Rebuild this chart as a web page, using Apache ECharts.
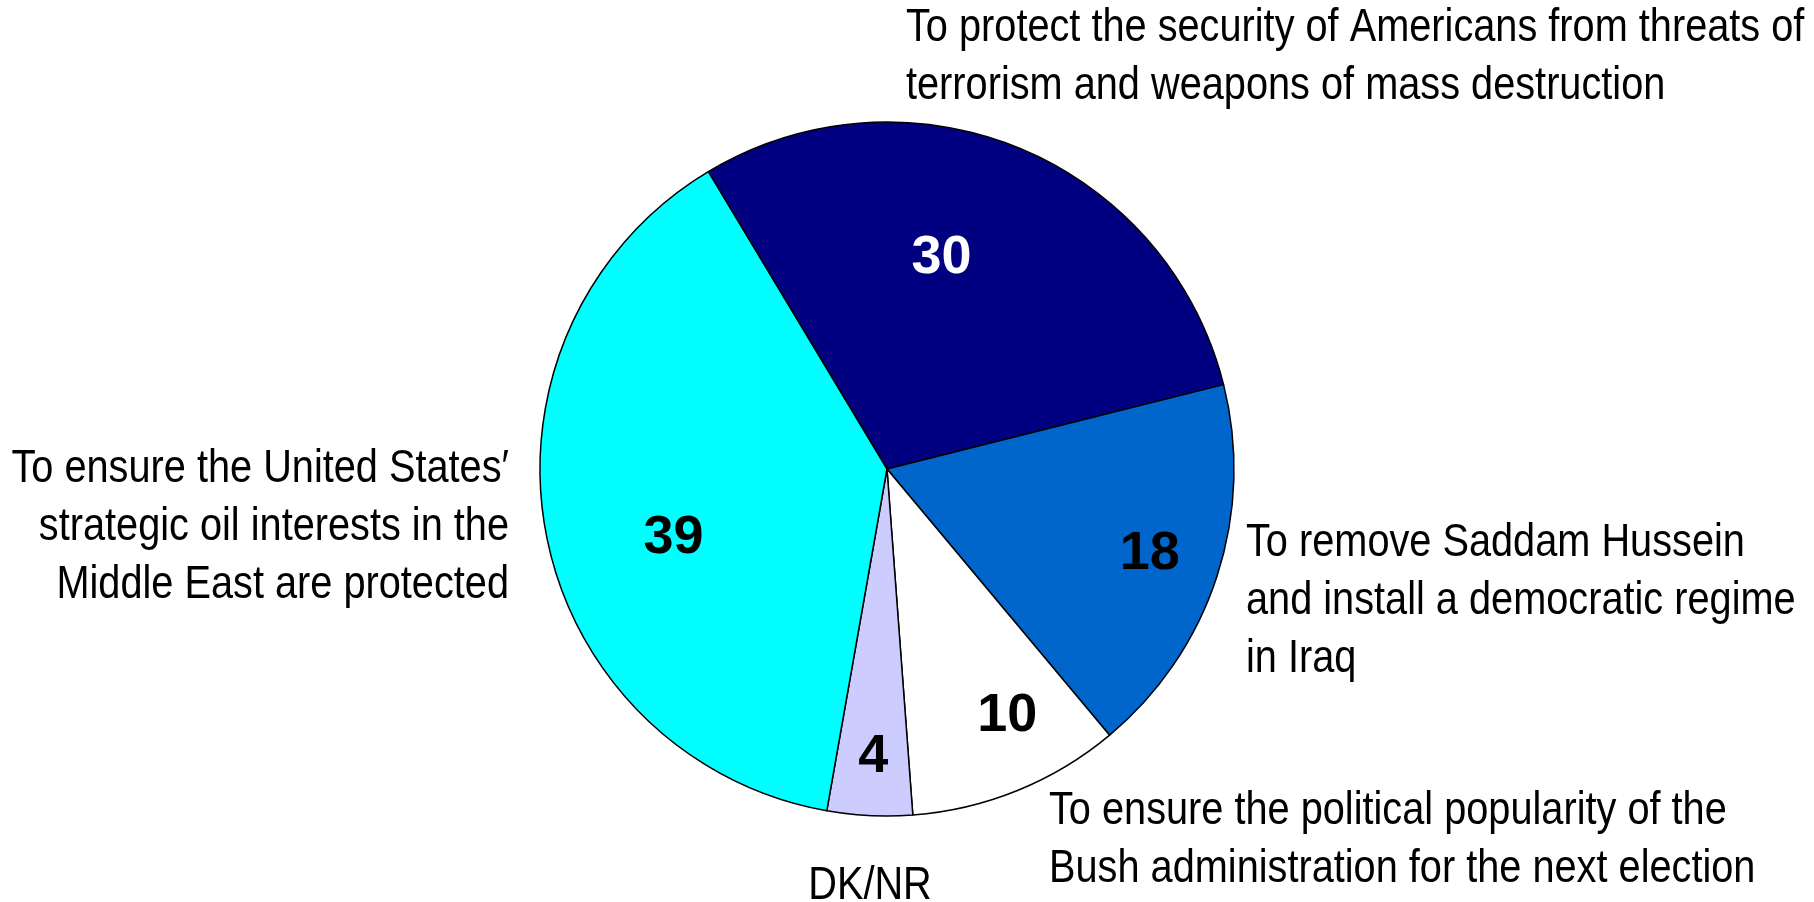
<!DOCTYPE html>
<html>
<head>
<meta charset="utf-8">
<script src="https://cdn.jsdelivr.net/npm/echarts@6/dist/echarts.min.js"></script>
<style>
html,body{margin:0;padding:0;background:#fff;}
#chart{width:1814px;height:902px;}
</style>
</head>
<body>
<div id="chart"></div>
<script>
const categories = [
  "To protect the security of Americans from threats of\nterrorism and weapons of mass destruction",
  "To remove Saddam Hussein\nand install a democratic regime\nin Iraq",
  "To ensure the political popularity of the\nBush administration for the next election",
  "DK/NR",
  "To ensure the United States\u2032\nstrategic oil interests in the\nMiddle East are protected"
];
const values = [30, 18, 10, 4, 39];
const colors = ["#000080", "#0066CC", "#FFFFFF", "#CCCCFF", "#00FFFF"];
const valueColors = ["#FFFFFF", "#000000", "#000000", "#000000", "#000000"];

const center = [887, 469];
const radius = 347;

// label placement tweaks (offsets for value labels, anchors for category labels)
const valueOffsets = [[-13, -48], [95, 31], [54, 84], [-5, 112], [-40, 37]];
const nameAnchors = [
  {x: 906, y: 57, align: 'left'},
  {x: 1246, y: 601, align: 'left'},
  {x: 1049, y: 840, align: 'left'},
  {x: 870, y: 886, align: 'center'},
  {x: 509, y: 527, align: 'right'}
];

const chart = echarts.init(document.getElementById('chart'), null, {renderer: 'canvas'});
const dataMain = values.map((v, i) => ({
  value: v, name: categories[i],
  itemStyle: {color: colors[i]},
  label: {color: valueColors[i]}
}));

const nameTexts = categories.map((c, i) => ({
  type: 'text',
  x: nameAnchors[i].x,
  y: nameAnchors[i].y,
  scaleX: 0.845,
  silent: true,
  style: {
    text: c,
    fill: '#000',
    fontFamily: '"Liberation Sans", Arial, sans-serif',
    fontSize: 47,
    lineHeight: 58,
    align: nameAnchors[i].align,
    verticalAlign: 'middle'
  }
}));

chart.setOption({
  backgroundColor: '#ffffff',
  animation: false,
  graphic: nameTexts,
  series: [
    {
      type: 'pie',
      center: center,
      radius: radius,
      startAngle: 121,
      clockwise: true,
      avoidLabelOverlap: false,
      itemStyle: {borderColor: '#000', borderWidth: 1.5},
      label: {
        show: true, position: 'inside', formatter: '{c}',
        fontFamily: 'Arial, "Liberation Sans", sans-serif',
        fontWeight: 'bold', fontSize: 54
      },
      labelLine: {show: false},
      labelLayout: function (p) {
        const o = valueOffsets[p.dataIndex];
        return {dx: o[0], dy: o[1]};
      },
      emphasis: {disabled: true},
      data: dataMain
    }
  ]
});
</script>
</body>
</html>
